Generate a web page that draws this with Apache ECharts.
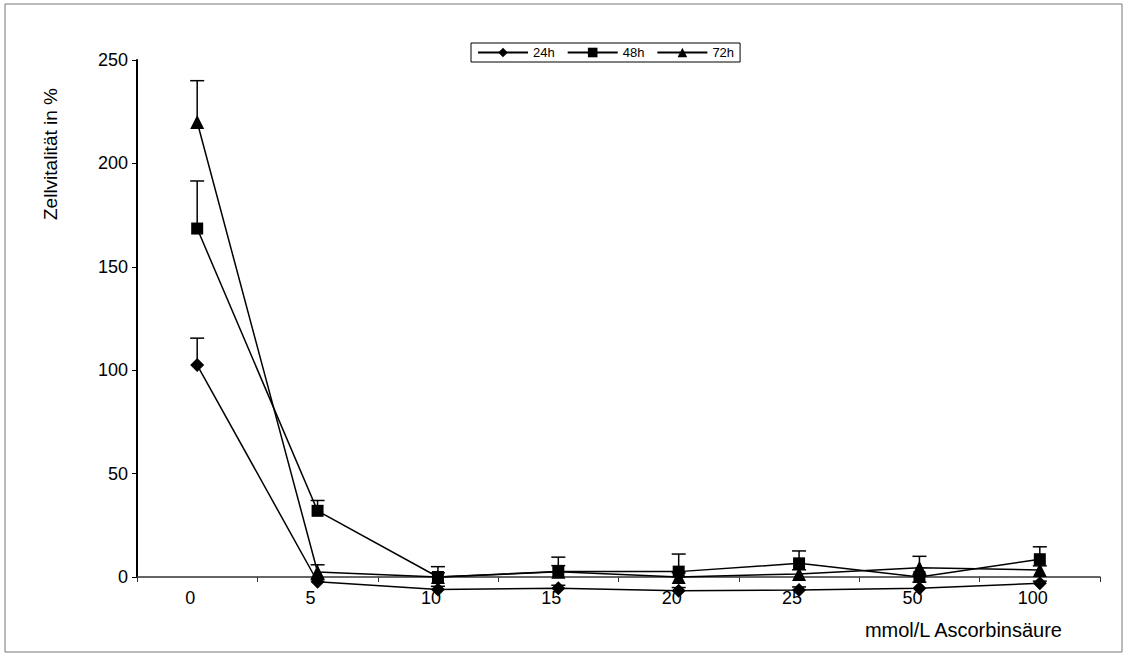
<!DOCTYPE html>
<html><head><meta charset="utf-8">
<script src="https://cdn.jsdelivr.net/npm/echarts@6/dist/echarts.min.js"></script>
<style>html,body{margin:0;padding:0;background:#fff}#c{width:1128px;height:657px}</style>
</head><body><div id="c"></div>
<script>
const categories = ['0','5','10','15','20','25','50','100'];
const yTicks = [0, 50, 100, 150, 200, 250];
const v24 = [102.5, -2.3, -6, -5.5, -6.6, -6.3, -5.5, -3];
const e24 = [13, 1, 1.5, 1.5, 1.5, 1.5, 3, 1];
const v48 = [168.5, 32, 0, 2.6, 2.6, 6.6, 0, 8.6];
const e48 = [23, 5, 5, 7, 8.5, 6, 1, 6];
const v72 = [220, 2.4, 0, 2.5, 0, 1.5, 4.5, 3.4];
const e72 = [20, 3.5, 2, 3, 2, 2, 5.5, 2];
const seriesNames = ['24h', '48h', '72h'];
const xTitle = 'mmol/L Ascorbinsäure';
const yTitle = 'Zellvitalität in %';

const FONT = '"Liberation Sans", Arial, Helvetica, sans-serif';
const chart = echarts.init(document.getElementById('c'), null, {renderer: 'svg'});

function errSeries(vals, errs) {
  return {
    type: 'custom', silent: true, clip: false, z: 1,
    data: vals.map((v, i) => [i, v, errs[i]]),
    encode: {x: 0, y: 1},
    renderItem: function (params, api) {
      const p = api.coord([api.value(0), api.value(1)]);
      const t = api.coord([api.value(0), api.value(1) + api.value(2)]);
      const st = {stroke: '#000', lineWidth: 1.5};
      return {type: 'group', children: [
        {type: 'line', shape: {x1: p[0], y1: p[1], x2: t[0], y2: t[1]}, style: st},
        {type: 'line', shape: {x1: t[0] - 7, y1: t[1], x2: t[0] + 7, y2: t[1]}, style: st}
      ]};
    }
  };
}
function lineSeries(name, vals, symbol, size) {
  return {
    name: name, type: 'line', data: vals, clip: false, z: 3,
    symbol: symbol, symbolSize: size, showAllSymbol: true,
    lineStyle: {color: '#000', width: 1.5},
    itemStyle: {color: '#000', borderWidth: 0}
  };
}

chart.setOption({
  animation: false,
  backgroundColor: '#fff',
  textStyle: {fontFamily: FONT},
  grid: {left: 137, right: 28, top: 60, bottom: 80, containLabel: false},
  legend: {
    data: seriesNames, left: 471, top: 43,
    itemWidth: 50, itemHeight: 12, itemGap: 12,
    padding: [3, 6], borderColor: '#000', borderWidth: 1,
    textStyle: {fontSize: 13, color: '#000', fontFamily: FONT}
  },
  xAxis: {
    type: 'category', data: categories, boundaryGap: true,
    axisLine: {onZero: false, lineStyle: {color: '#333', width: 1.5}},
    axisTick: {show: true, interval: 0, length: 5, inside: false, lineStyle: {color: '#333'}},
    axisLabel: {interval: 0, fontSize: 18, color: '#000', margin: 12, padding: [0, 14, 0, 0], fontFamily: FONT},
    splitLine: {show: false}
  },
  yAxis: {
    type: 'value', min: yTicks[0], max: yTicks[yTicks.length - 1], interval: 50,
    axisLine: {show: true, lineStyle: {color: '#000', width: 2}},
    axisTick: {show: true, length: 5, lineStyle: {color: '#000'}},
    axisLabel: {fontSize: 18, color: '#000', margin: 9, fontFamily: FONT},
    splitLine: {show: false}
  },
  graphic: [
    {type: 'rect', shape: {x: 5, y: 4, width: 1117, height: 648}, style: {fill: 'none', stroke: '#777', lineWidth: 1}, z: -10, silent: true},
    {type: 'text', x: 50, y: 154, rotation: Math.PI / 2,
     style: {text: yTitle, font: '19px ' + FONT, fill: '#000', textAlign: 'center', textVerticalAlign: 'middle'}},
    {type: 'text', x: 1062, y: 630,
     style: {text: xTitle, font: '20px ' + FONT, fill: '#000', textAlign: 'right', textVerticalAlign: 'middle'}}
  ],
  series: [
    errSeries(v24, e24), errSeries(v48, e48), errSeries(v72, e72),
    lineSeries(seriesNames[0], v24, 'diamond', 14),
    lineSeries(seriesNames[1], v48, 'rect', 12),
    lineSeries(seriesNames[2], v72, 'triangle', 14)
  ]
});
</script></body></html>
